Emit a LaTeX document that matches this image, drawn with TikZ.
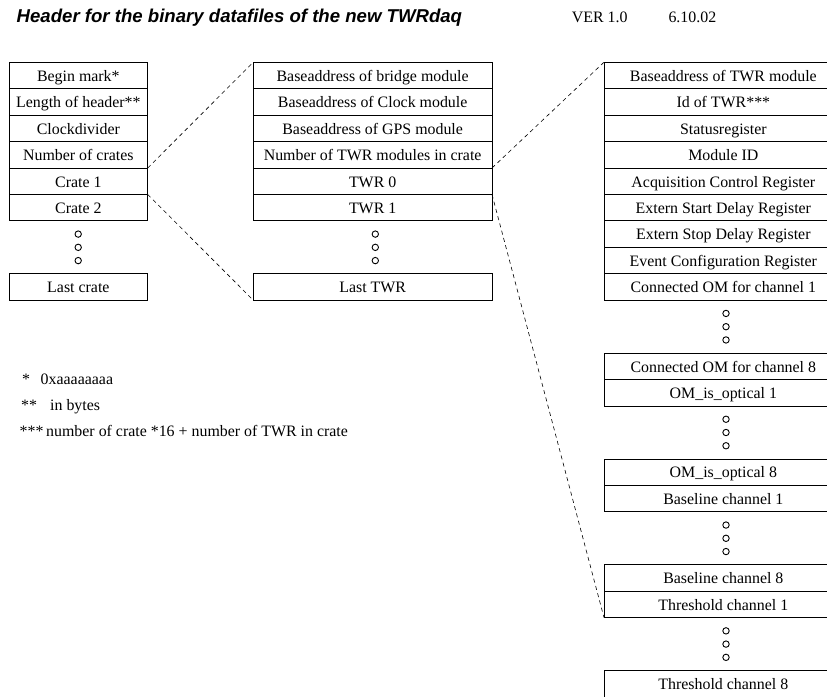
\documentclass[tikz,border=0pt]{standalone}
\usepackage{fontspec}
\setmainfont{Liberation Serif}
\newfontfamily\headfont{Liberation Sans}
\newcommand\bodyfont{\fontsize{15.9}{19}\selectfont}
\begin{document}
\begin{tikzpicture}[x=1pt,y=-1pt,
  cell/.style={draw, line width=0.9pt, rectangle, inner sep=0pt, outer sep=0pt,
    minimum height=26.45pt, text height=12.4pt, text depth=0.85pt,
    anchor=north west, font=\bodyfont},
  narrowcell/.style={cell, minimum width=138.7pt},
  widecell/.style={cell, minimum width=238.7pt},
  link/.style={dash pattern=on 4pt off 3.5pt, line width=0.6pt},
  dotmark/.style={circle, draw, line width=0.9pt, minimum size=6.4pt, inner sep=0pt},
  plain/.style={anchor=base west, inner sep=0pt, font=\bodyfont}]
\useasboundingbox (0,0) rectangle (827,696);
\clip (0,0) rectangle (827,696);

% heading line
\node[anchor=base west, inner sep=0pt,
  font=\headfont\fontsize{18.6}{22}\selectfont\bfseries\itshape]
  (title) at (16.5,22.7) {Header for the binary datafiles of the new TWRdaq};
\node[plain] (version) at (571.7,22.7) {VER 1.0};
\node[plain] (date) at (668.3,22.7) {6.10.02};

% file header: crates
\foreach \t [count=\i from 0] in {Begin mark*, Length of header**, Clockdivider,
    Number of crates, Crate 1, Crate 2}
  \node[narrowcell] (L\i) at (9,{62.2+\i*26.45}) {\t};
\node[narrowcell] (Llast) at (9,{62.2+8*26.45}) {Last crate};

% crate block
\foreach \t [count=\i from 0] in {Baseaddress of bridge module, Baseaddress of Clock module,
    Baseaddress of GPS module, Number of TWR modules in crate, TWR 0, TWR 1}
  \node[widecell] (M\i) at (253.3,{62.2+\i*26.45}) {\t};
\node[widecell] (Mlast) at (253.3,{62.2+8*26.45}) {Last TWR};

% TWR block
\foreach \r/\t in {0/Baseaddress of TWR module, 1/Id of TWR***, 2/Statusregister,
    3/Module ID, 4/Acquisition Control Register, 5/Extern Start Delay Register,
    6/Extern Stop Delay Register, 7/Event Configuration Register,
    8/Connected OM for channel 1, 11/Connected OM for channel 8,
    12/OM\_is\_optical 1, 15/OM\_is\_optical 8, 16/Baseline channel 1,
    19/Baseline channel 8, 20/Threshold channel 1, 23/Threshold channel 8}
  \node[widecell] (R\r) at (604,{62.2+\r*26.45}) {\t};

% ellipsis marks
\foreach \g/\x/\n in {6/78.2/L, 6/375.3/M, 9/726/Ra, 13/726/Rb, 17/726/Rc, 21/726/Rd}
  \foreach \k/\dy in {1/13.2, 2/26.45, 3/39.7}
    \node[dotmark] (dot\n\k) at (\x,{62.2+\g*26.45+\dy}) {};

% zoom-in guides
\draw[link] (L3.south east) -- (M0.north west);
\draw[link] (L5.north east) -- (Mlast.south west);
\draw[link] (M3.south east) -- (R0.north west);
\draw[link] (M5.north east) -- (R20.south west);

% footnotes
\node[plain] (n1) at (22,384) {*};
\node[plain] (t1) at (40.5,384) {0xaaaaaaaa};
\node[plain] (n2) at (21,410) {**};
\node[plain] (t2) at (50,410) {in bytes};
\node[plain] (n3) at (19.5,436) {***};
\node[plain] (t3) at (46,436) {number of crate *16 + number of TWR in crate};
\end{tikzpicture}
\end{document}
